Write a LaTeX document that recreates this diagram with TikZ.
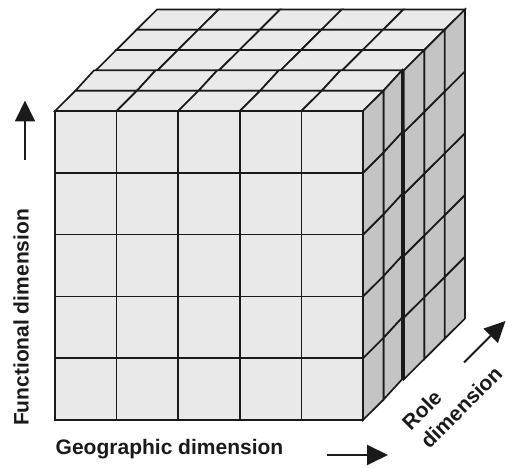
\documentclass[tikz,border=0pt]{standalone}
\usepackage{fontspec}
\setmainfont{Liberation Sans}
\usetikzlibrary{arrows.meta}
\definecolor{facegray}{HTML}{E9E9E9}
\definecolor{topgray}{HTML}{EAEAEA}
\definecolor{sidegray}{HTML}{C4C4C4}
\definecolor{inkc}{HTML}{1A1A1A}
\begin{document}
\begin{tikzpicture}[x=1pt,y=1pt,
  frontcell/.style={fill=facegray,draw=inkc,line width=1.7pt,line join=miter},
  topcell/.style={fill=topgray,draw=inkc,line width=1.7pt,line join=miter},
  sidecell/.style={fill=sidegray,draw=inkc,line width=1.7pt,line join=miter},
  dimlabel/.style={font=\fontsize{21}{26}\selectfont\bfseries,text=inkc,inner sep=0pt},
  dimarrow/.style={draw=inkc,line width=1.9pt,-{Triangle[length=21pt,width=20pt]}}]
\useasboundingbox (0,0) rectangle (506,468);
\def\cw{61.6}
\def\ch{61.8}
\def\dy{20.3}
\foreach \k/\ddx in {4/20.4,3/20.4,2/20.4,1/18.6,0/20.4} {
  \pgfmathsetmacro\ox{55+\k*20.4}
  \pgfmathsetmacro\oy{48+\k*20.3}
  \foreach \i in {0,...,4} {
    \foreach \j in {0,...,4} {
      \draw[frontcell] (\ox+\i*\cw,\oy+\j*\ch) rectangle ++(\cw,\ch);
    }
    \draw[topcell] (\ox+\i*\cw,\oy+5*\ch) -- ++(\ddx,\dy) -- ++(\cw,0) -- ++(-\ddx,-\dy) -- cycle;
    \draw[sidecell] (\ox+5*\cw,\oy+\i*\ch) -- ++(\ddx,\dy) -- ++(0,\ch) -- ++(-\ddx,-\dy) -- cycle;
  }
}
% labels
\node[dimlabel,rotate=90,anchor=base] (func) at (28.5,150.5) {Functional dimension};
\node[dimlabel,anchor=base] (geo) at (169.5,13) {Geographic dimension};
\node[dimlabel,rotate=45,align=left,anchor=center] (role) at (452,70) {Role\\dimension};
% arrows
\coordinate (fa1) at (25,308);
\coordinate (fa2) at (25,367.5);
\draw[dimarrow] (fa1) -- (fa2);
\coordinate (ga1) at (327,13);
\coordinate (ga2) at (388,13);
\draw[dimarrow] (ga1) -- (ga2);
\coordinate (ra1) at (464,105.5);
\coordinate (ra2) at (505.5,147);
\draw[dimarrow] (ra1) -- (ra2);
\end{tikzpicture}
\end{document}
